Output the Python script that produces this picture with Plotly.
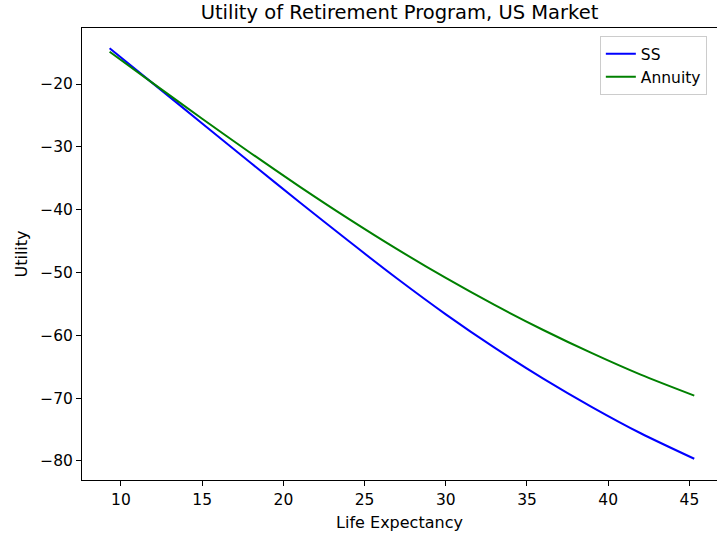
import plotly.graph_objects as go

FONT_FAMILY = "DejaVu Sans, sans-serif"
TEXT_COLOR = "#000000"

# Life expectancy grid (x) and read-off utility values for each programme
life_expectancy = [9.3, 12, 15, 18, 21, 24, 27, 30, 33, 36, 39, 42, 45.3]
ss_utility = [-14.3, -19.97, -26.27, -32.57, -38.81, -44.96, -50.96, -56.66, -61.97, -66.89, -71.42, -75.59, -79.65]
annuity_utility = [-14.86, -19.94, -25.52, -31.01, -36.32, -41.42, -46.28, -50.87, -55.16, -59.15, -62.84, -66.26, -69.6]

x_ticks = [10, 15, 20, 25, 30, 35, 40, 45]
y_ticks = [-20, -30, -40, -50, -60, -70, -80]


def _axis(**overrides):
    axis = dict(
        showgrid=False,
        zeroline=False,
        showline=True,
        linecolor="#000000",
        linewidth=1,
        mirror=True,
        ticks="outside",
        ticklen=5,
        tickwidth=1,
        tickcolor="#000000",
        tickfont=dict(family=FONT_FAMILY, size=15.5, color=TEXT_COLOR),
        title_font=dict(family=FONT_FAMILY, size=16, color=TEXT_COLOR),
    )
    axis.update(overrides)
    return axis


fig = go.Figure()
fig.add_trace(
    go.Scatter(
        x=life_expectancy,
        y=ss_utility,
        mode="lines",
        name="SS",
        legendgroup="ss",
        line=dict(color="#0000ff", width=2, shape="spline", smoothing=0.8),
    )
)
fig.add_trace(
    go.Scatter(
        x=life_expectancy,
        y=annuity_utility,
        mode="lines",
        name="Annuity",
        legendgroup="annuity",
        line=dict(color="#008000", width=2, shape="spline", smoothing=0.8),
    )
)

fig.update_layout(
    width=717,
    height=538,
    paper_bgcolor="#ffffff",
    plot_bgcolor="#ffffff",
    margin=dict(l=82, r=0, t=28, b=58),
    font=dict(family=FONT_FAMILY, color=TEXT_COLOR, size=16),
    title=dict(
        text="Utility of Retirement Program, US Market",
        x=0.5,
        xref="paper",
        xanchor="center",
        yref="container",
        y=0.977,
        yanchor="middle",
        font=dict(family=FONT_FAMILY, size=19.5, color=TEXT_COLOR),
    ),
    xaxis=_axis(
        range=[7.6, 46.7],
        tickvals=x_ticks,
        title=dict(text="Life Expectancy", standoff=9),
    ),
    yaxis=_axis(
        range=[-83.03, -11.08],
        tickvals=y_ticks,
        ticktext=["\u2212" + str(abs(v)) for v in y_ticks],
        title=dict(text="Utility", standoff=8),
    ),
    legend=dict(
        x=0.984,
        y=0.982,
        xanchor="right",
        yanchor="top",
        bgcolor="rgba(255,255,255,0.8)",
        bordercolor="#cccccc",
        borderwidth=1,
        font=dict(family=FONT_FAMILY, size=15.5, color=TEXT_COLOR),
        traceorder="grouped",
        tracegroupgap=0,
        itemwidth=30,
    ),
    showlegend=True,
)

# page body has a default 8px margin; drop it so the figure sits at the window origin
fig.write_html(
    "out.html",
    config={"displayModeBar": False},
    post_script="document.body.style.margin = '0';",
)
